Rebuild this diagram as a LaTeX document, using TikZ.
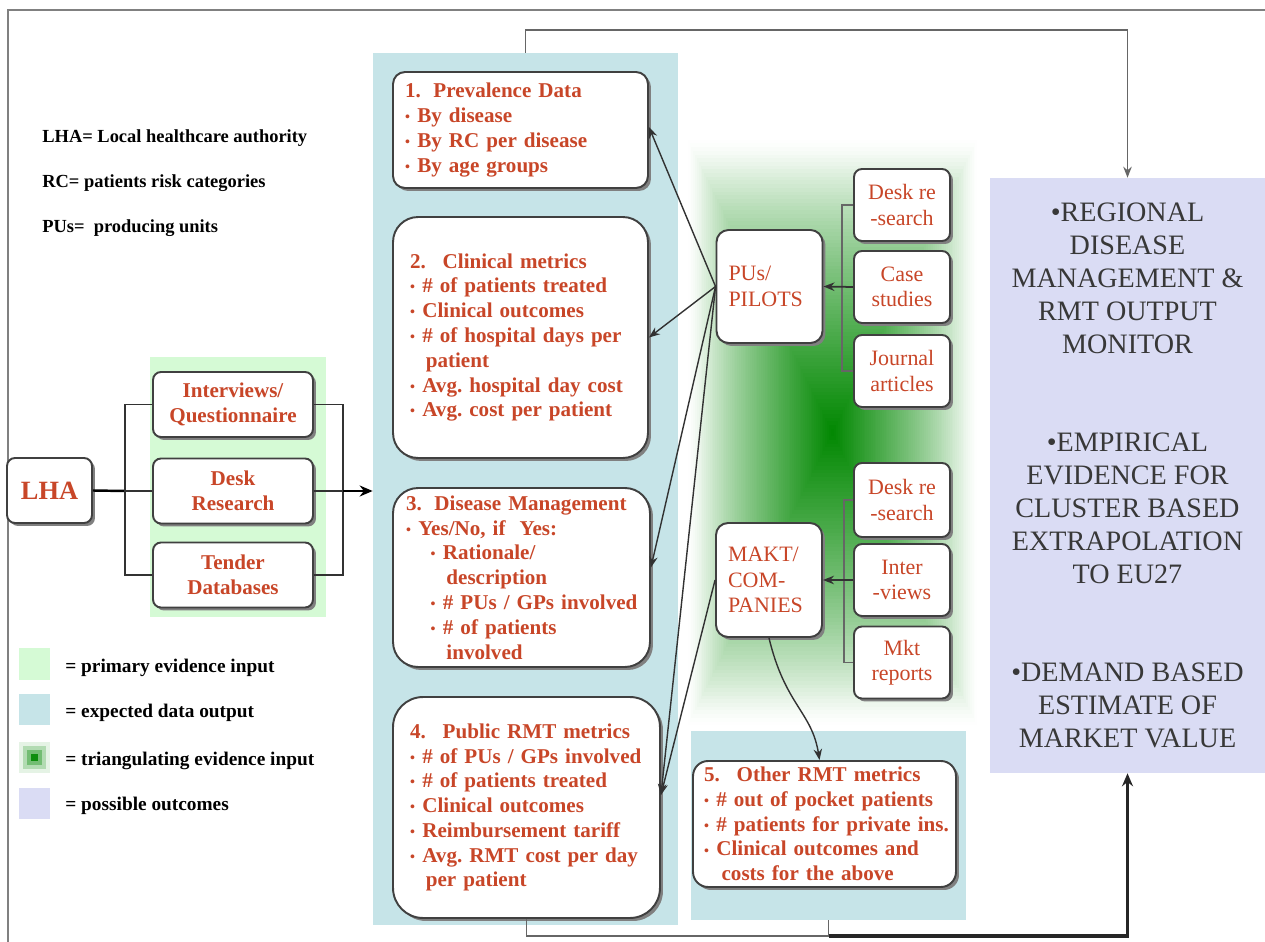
\documentclass[tikz,border=0pt]{standalone}
\usepackage{fontspec}
\setmainfont{Liberation Serif}
\usetikzlibrary{arrows.meta,shadows,calc}

\definecolor{txtred}{RGB}{200,70,40}
\definecolor{pgreen}{RGB}{213,250,213}
\definecolor{dblue}{RGB}{198,228,232}
\definecolor{ppurple}{RGB}{218,220,244}
\definecolor{gcore}{RGB}{0,135,0}
\definecolor{linegray}{RGB}{50,50,50}

% small bullet followed by a short gap
\newcommand{\bl}{{\fontsize{8}{8}\selectfont\raisebox{0.15ex}{•}}\hspace{0.35em}}
% one unbreakable line of a list
\newcommand{\li}[1]{\mbox{#1}}
\newcommand{\cnt}{\hspace*{9pt}}

\begin{document}
\begin{tikzpicture}[x=0.02cm,y=-0.02cm,
  card/.style={draw=black!75, line width=1.1pt, fill=white,
    drop shadow={shadow xshift=0.06cm, shadow yshift=-0.06cm, fill=black!50, opacity=1},
    text=txtred},
  infobox/.style={card, font=\bfseries\fontsize{12}{14.1}\selectfont, align=left, inner ysep=0pt},
  sidebox/.style={card, rounded corners=0.16cm, font=\fontsize{12.5}{14.5}\selectfont,
    align=center, minimum width=1.92cm, minimum height=1.44cm, inner sep=0pt},
  srcbox/.style={card, rounded corners=0.16cm, font=\bfseries\fontsize{12}{14.2}\selectfont,
    align=center, minimum width=3.2cm, minimum height=1.3cm, inner sep=0pt},
  hub/.style={card, rounded corners=0.24cm, font=\fontsize{12.5}{14.5}\selectfont,
    align=left, inner ysep=0pt, inner xsep=0.24cm, text width=1.64cm, minimum height=2.26cm},
  link/.style={draw=linegray, line width=0.8pt},
  tip/.style={-{Stealth[length=0.22cm,width=0.17cm]}},
  legtxt/.style={anchor=west, font=\bfseries\fontsize{11}{13}\selectfont, inner sep=0pt},
  swatch/.style={minimum width=0.62cm, minimum height=0.64cm, inner sep=0pt}
]
\useasboundingbox (0,0) rectangle (1265,942);

% frame lines
\draw[black!50, line width=0.9pt] (8,942) -- (8,10) -- (1265,10);

% background regions
\node[fill=pgreen, minimum width=3.52cm, minimum height=5.2cm, inner sep=0pt] (greenbg) at (238,487) {};
\node[fill=dblue, minimum width=6.1cm, minimum height=17.44cm, inner sep=0pt] (bluebg) at (525.5,489) {};
\node[fill=dblue, minimum width=5.5cm, minimum height=3.78cm, inner sep=0pt] (bg5) at (828.5,825.5) {};

% triangulating evidence field: rectangular gradient with a soft rim and a dark core
\foreach \i in {0,...,79}{
  \pgfmathsetmacro{\t}{\i/80}
  \pgfmathsetmacro{\p}{100*(\t^0.85)*(1-exp(-12*\t))}
  \fill[gcore!\p!white] (686+146.5*\t,136+296.5*\t) rectangle (979-146.5*\t,729-296.5*\t);
}

% outcomes
\node[fill=ppurple, minimum width=5.5cm, minimum height=11.9cm, inner sep=0pt, align=center,
      font=\fontsize{16}{18.7}\selectfont, text=black!78] (outcome) at (1127.5,475.5)
  {•REGIONAL\\DISEASE\\MANAGEMENT \&\\RMT OUTPUT\\MONITOR\\[37.4pt]
   •EMPIRICAL\\EVIDENCE FOR\\CLUSTER BASED\\EXTRAPOLATION\\TO EU27\\[37.4pt]
   •DEMAND BASED\\ESTIMATE OF\\MARKET VALUE};

% abbreviations
\node[anchor=west, font=\bfseries\fontsize{10.5}{12}\selectfont, inner sep=0pt] (abA) at (42,138) {LHA= Local healthcare authority};
\node[anchor=west, font=\bfseries\fontsize{10.5}{12}\selectfont, inner sep=0pt] (abB) at (42,183) {RC= patients risk categories};
\node[anchor=west, font=\bfseries\fontsize{10.5}{12}\selectfont, inner sep=0pt] (abC) at (42,228) {PUs=\ \ producing units};

% legend
\node[swatch, fill=pgreen] (sw1) at (34.5,664) {};
\node[swatch, fill=dblue] (sw2) at (34.5,709.5) {};
\node[swatch, fill=gcore!10] (sw3) at (34.5,757.5) {};
\fill[gcore!30] (23,746) rectangle (46,769);
\fill[gcore!55] (27,750) rectangle (42,765);
\fill[gcore!95] (31,754) rectangle (38,761);
\node[swatch, fill=ppurple] (sw4) at (34.5,803.5) {};
\node[legtxt] (lg1) at (65,668) {= primary evidence input};
\node[legtxt] (lg2) at (65,713) {= expected data output};
\node[legtxt] (lg3) at (65,761) {= triangulating evidence input};
\node[legtxt] (lg4) at (65,806) {= possible outcomes};

% primary evidence branch
\node[card, rounded corners=0.16cm, font=\bfseries\fontsize{15}{17}\selectfont,
      minimum width=1.7cm, minimum height=1.3cm, inner sep=0pt] (lha) at (49.5,490.5) {LHA};
\node[srcbox] (iq) at (233,404.5) {Interviews/\\Questionnaire};
\node[srcbox] (dr) at (233,491) {Desk\\Research};
\node[srcbox] (td) at (233,575) {Tender\\Databases};

\coordinate (jl) at (125,491);
\coordinate (jr) at (343,491);
\draw[black, line width=1.4pt] (lha.east) -- (jl);
\draw[link] (iq.west) -| (jl) |- (td.west);
\draw[link] (jl) -- (dr.west);
\draw[link] (iq.east) -| (jr) |- (td.east);
\draw[link] (dr.east) -- (jr);
\draw[black, line width=1.6pt, -{Stealth[length=0.26cm,width=0.22cm]}] (jr) -- (jr -| bluebg.west);

% expected data output boxes
\node[infobox, rounded corners=0.24cm, inner xsep=0.24cm, text width=4.62cm, minimum height=2.32cm] (box1) at (520.5,130)
  {\li{1.\hspace{0.6em}Prevalence Data}\\ \li{\bl By disease}\\ \li{\bl By RC per disease}\\ \li{\bl By age groups}};
\node[infobox, rounded corners=0.5cm, inner xsep=0.34cm, text width=4.42cm, minimum height=4.82cm] (box2) at (520.5,337.5)
  {\li{2.\hspace{0.8em}Clinical metrics}\\ \li{\bl \# of patients treated}\\ \li{\bl Clinical outcomes}\\ \li{\bl \# of hospital days per}\\ \li{\cnt patient}\\ \li{\bl Avg.\ hospital day cost}\\ \li{\bl Avg.\ cost per patient}};
\node[infobox, rounded corners=0.5cm, inner xsep=0.26cm, text width=4.62cm, minimum height=3.58cm] (box3) at (521.5,577.5)
  {\li{3.\hspace{0.6em}Disease Management}\\ \li{\bl Yes/No, if\ \ Yes:}\\ \li{\hspace*{14pt}\bl Rationale/}\\ \li{\hspace*{23pt}description}\\ \li{\hspace*{14pt}\bl \# PUs / GPs involved}\\ \li{\hspace*{14pt}\bl \# of patients}\\ \li{\hspace*{23pt}involved}};
\node[infobox, rounded corners=0.6cm, inner xsep=0.34cm, text width=4.66cm, minimum height=4.42cm] (box4) at (526.5,807.5)
  {\li{4.\hspace{0.8em}Public RMT metrics}\\ \li{\bl \# of PUs / GPs involved}\\ \li{\bl \# of patients treated}\\ \li{\bl Clinical outcomes}\\ \li{\bl Reimbursement tariff}\\ \li{\bl Avg.\ RMT cost per day}\\ \li{\cnt per patient}};
\node[infobox, rounded corners=0.3cm, inner xsep=0.22cm, text width=4.82cm, minimum height=2.52cm] (box5) at (824.5,824)
  {\li{5.\hspace{0.8em}Other RMT metrics}\\ \li{\bl \# out of pocket patients}\\ \li{\bl \# patients for private ins.}\\ \li{\bl Clinical outcomes and}\\ \li{\hspace*{10pt}costs for the above}};

% triangulating sources
\node[hub] (pus) at (769.5,286.5) {PUs/\\PILOTS};
\node[sidebox] (desk1) at (902,205) {Desk re\\-search};
\node[sidebox] (case) at (902,287) {Case\\studies};
\node[sidebox] (jour) at (902,371) {Journal\\articles};

\node[hub, minimum height=2.28cm] (makt) at (769,580) {MAKT/\\COM-\\PANIES};
\node[sidebox, minimum height=1.48cm] (desk2) at (902,500) {Desk re\\-search};
\node[sidebox] (intv) at (902,580) {Inter\\-views};
\node[sidebox] (mkt) at (902,662.5) {Mkt\\reports};

\draw[link, draw=black!60] (desk1.west) -- ++(-11,0) |- (jour.west);
\draw[link, tip, line width=1pt] (case.west) -- (pus.east);
\draw[link, draw=black!60] (desk2.west) -- ++(-9,0) |- (mkt.west);
\draw[link, tip, line width=1pt] (intv.west) -- (makt.east);

% links into the data boxes
\draw[link, tip] (pus.west) -- ([yshift=0.06cm]box1.east);
\draw[link, tip] (pus.west) -- (box2.east);
\draw[link, tip] (pus.west) -- ([yshift=0.2cm]box3.east);
\draw[link, tip] (pus.west) -- ([yshift=0.25cm]box4.east);
\draw[link, tip] (makt.west) -- ([yshift=0.25cm]box4.east);
\draw[link, tip] (makt.south) .. controls (785,705) and (812,712) .. ([xshift=-0.1cm]box5.north);

% links to the outcomes
\draw[link, draw=black!60, line width=1pt, tip] (bluebg.north) -- ++(0,-23) -| (outcome.north);
\coordinate (jb) at (828.5,936);
\draw[link, draw=black!60, line width=1pt] (box4.south) |- (jb);
\draw[link, draw=black!60, line width=1pt] (bg5.south) -- (jb);
\draw[black!85, line width=1.8pt, -{Stealth[length=0.26cm,width=0.22cm]}] (jb) -| (outcome.south);
\end{tikzpicture}
\end{document}
